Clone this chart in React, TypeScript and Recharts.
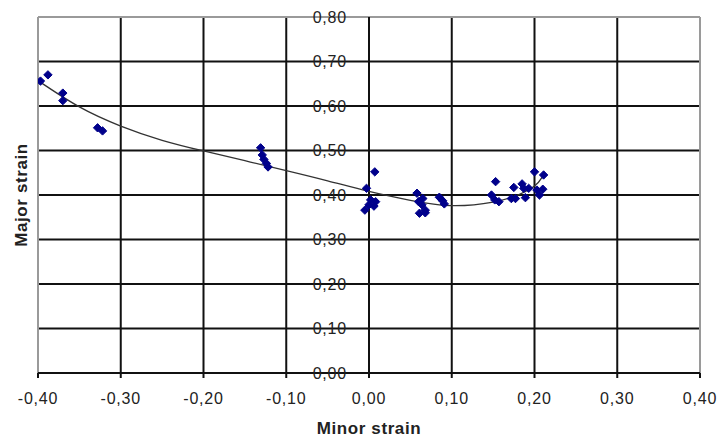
import {
  CartesianGrid,
  ComposedChart,
  Line,
  ReferenceLine,
  Scatter,
  XAxis,
  YAxis,
} from "recharts";

const minorStrain = [
  -0.397, -0.388, -0.37, -0.37, -0.328, -0.322, -0.131, -0.129, -0.127, -0.124,
  -0.122, 0.007, -0.003, 0.002, 0.008, 0.006, -0.005, 0.0, 0.058, 0.065, 0.06,
  0.064, 0.068, 0.061, 0.068, 0.085, 0.089, 0.091, 0.153, 0.148, 0.152, 0.157,
  0.175, 0.185, 0.187, 0.172, 0.177, 0.189, 0.193, 0.2, 0.211, 0.203, 0.21,
  0.206,
];

const majorStrain = [
  0.656, 0.67, 0.629, 0.612, 0.551, 0.544, 0.506, 0.49, 0.48, 0.471, 0.463,
  0.452, 0.415, 0.389, 0.385, 0.375, 0.366, 0.378, 0.404, 0.392, 0.385, 0.378,
  0.366, 0.359, 0.36, 0.395, 0.387, 0.38, 0.43, 0.4, 0.389, 0.385, 0.417, 0.425,
  0.415, 0.392, 0.392, 0.394, 0.415, 0.452, 0.445, 0.411, 0.413, 0.4,
];

// polynomial trendline
const trendMinor = [
  -0.4, -0.35, -0.3, -0.25, -0.2, -0.15, -0.1, -0.05, 0, 0.05, 0.1, 0.15, 0.18,
  0.2, 0.21,
];
const trendMajor = [
  0.657, 0.598, 0.555, 0.523, 0.499, 0.477, 0.455, 0.432, 0.408, 0.388, 0.376,
  0.384, 0.4, 0.42, 0.442,
];

const xTicks = [-0.4, -0.3, -0.2, -0.1, 0, 0.1, 0.2, 0.3, 0.4];
const yTicks = [0, 0.1, 0.2, 0.3, 0.4, 0.5, 0.6, 0.7, 0.8];

const W = 722;
const H = 443;
const Y_AXIS_W = 1;
const MARGIN = { top: 17, right: 22, left: 37, bottom: 0 };
const PLOT_W = W - MARGIN.left - Y_AXIS_W - MARGIN.right;
const FONT = "'Liberation Sans', Arial, sans-serif";

const points = minorStrain.map((x, i) => ({ x, y: majorStrain[i] }));
const trend = trendMinor.map((x, i) => ({ x, y: trendMajor[i] }));

const fmt = (v: number) => v.toFixed(2).replace(".", ",");

// y labels sit next to the x = 0 axis, in the middle of the plot
function YTick({ x, y, payload }: any) {
  return (
    <text
      x={x + PLOT_W / 2 - 14}
      y={y}
      dy="0.36em"
      textAnchor="end"
      fontSize={16}
      letterSpacing={0.8}
      fontFamily={FONT}
      fill="#222"
    >
      {fmt(payload.value)}
    </text>
  );
}

function YTitle({ viewBox }: any) {
  const cx = 21;
  const cy = viewBox.y + viewBox.height / 2;
  return (
    <text
      x={cx}
      y={cy}
      transform={`rotate(-90 ${cx} ${cy})`}
      textAnchor="middle"
      dominantBaseline="central"
      fontSize={17}
      letterSpacing={0.6}
      fontWeight="bold"
      fontFamily={FONT}
      fill="#222"
    >
      Major strain
    </text>
  );
}

function Marker({ cx, cy }: any) {
  const r = 4.2;
  return (
    <path
      d={`M${cx},${cy - r}L${cx + r},${cy}L${cx},${cy + r}L${cx - r},${cy}Z`}
      fill="#00008b"
      stroke="#00008b"
      strokeWidth={1}
      strokeLinejoin="round"
    />
  );
}

export default function App() {
  return (
    <div style={{ position: "absolute", left: 0, top: 0, background: "#fff" }}>
      <ComposedChart width={W} height={H} margin={MARGIN}>
        <CartesianGrid stroke="#111" strokeWidth={2} />
        <XAxis
          type="number"
          dataKey="x"
          domain={[-0.4, 0.4]}
          ticks={xTicks}
          tickFormatter={fmt}
          allowDataOverflow
          height={70}
          tickSize={5}
          tickMargin={15}
          axisLine={{ stroke: "#111", strokeWidth: 2 }}
          tickLine={{ stroke: "#111", strokeWidth: 2 }}
          tick={{
            fontSize: 16,
            fontFamily: FONT,
            fill: "#222",
            letterSpacing: 0.8,
          }}
          label={{
            value: "Minor strain",
            position: "insideBottom",
            offset: 9,
            fontSize: 17,
            fontWeight: "bold",
            fontFamily: FONT,
            fill: "#222",
            letterSpacing: 0.6,
          }}
        />
        <YAxis
          type="number"
          dataKey="y"
          domain={[0, 0.8]}
          ticks={yTicks}
          width={Y_AXIS_W}
          axisLine={false}
          tickLine={false}
          tick={(props: any) => <YTick {...props} />}
          label={(props: any) => <YTitle {...props} />}
        />
        <ReferenceLine x={-0.4} stroke="#9a9a9a" strokeWidth={2} />
        <ReferenceLine x={0.4} stroke="#9a9a9a" strokeWidth={2} />
        <ReferenceLine y={0.8} stroke="#9a9a9a" strokeWidth={2} />
        <ReferenceLine x={0} stroke="#111" strokeWidth={2} />
        <Line
          data={trend}
          dataKey="y"
          type="natural"
          stroke="#333"
          strokeWidth={1.3}
          dot={false}
          isAnimationActive={false}
        />
        <Scatter
          data={points}
          dataKey="y"
          shape={(props: any) => <Marker {...props} />}
          legendType="none"
          isAnimationActive={false}
        />
      </ComposedChart>
    </div>
  );
}
